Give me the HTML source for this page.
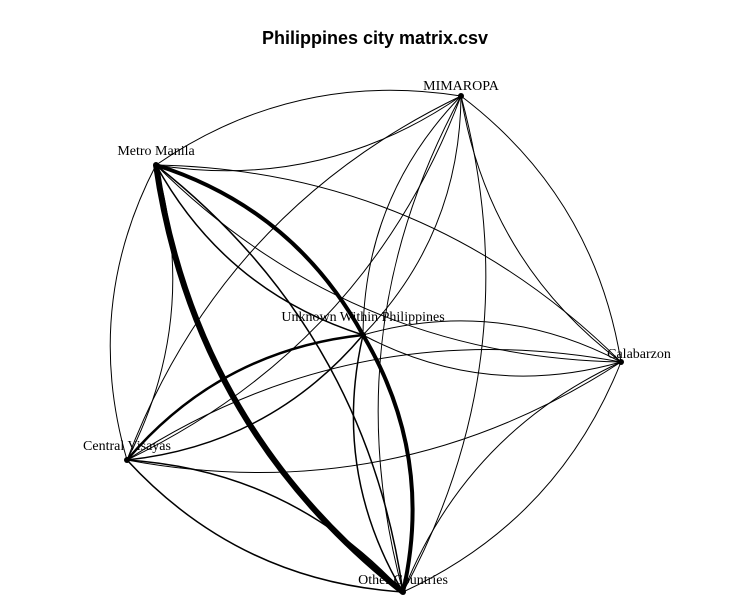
<!DOCTYPE html>
<html><head><meta charset="utf-8"><style>
body{margin:0;background:#fff}
svg{display:block}
text{font-family:"Liberation Serif",serif;font-size:14px;fill:#000}
.title{font-family:"Liberation Sans",sans-serif;font-weight:bold;font-size:18px}
</style></head><body>
<svg id="chart" width="749" height="616">
<text class="title" x="375" y="44" text-anchor="middle">Philippines city matrix.csv</text>
<g id="edges"></g>
<g id="nodes"></g>
</svg>
<script>
const nodeNames = ["MIMAROPA","Metro Manila","Unknown Within Philippines","Calabarzon","Central Visayas","Other Countries"];
const nodeX = [461,156,363,621,127,403];
const nodeY = [96,165,335,362,460,592];
const edgeFrom = [1,5,1,2,2,5,4,2,4,5,0,1,0,2,0,3,0,4,0,5,1,3,1,4,2,3,3,4,3,5];
const edgeTo   = [5,1,2,1,5,2,2,4,5,4,1,0,2,0,3,0,4,0,5,0,3,1,4,1,3,2,4,3,5,3];
const edgeWeight=[6,1.5,1.5,4,1.5,4,1.5,2.5,1.5,1.5,1,1,1,1,1,1,1,1,1,1,1,1,1,1,1,1,1,1,1,1];
const ns="http://www.w3.org/2000/svg";
const eg=document.getElementById('edges');
const curv=0.2;
for(let i=0;i<edgeFrom.length;i++){
  const a=edgeFrom[i],b=edgeTo[i];
  const x1=nodeX[a],y1=nodeY[a],x2=nodeX[b],y2=nodeY[b];
  const dx=x2-x1,dy=y2-y1;
  const cx=(x1+x2)/2+(-dy)*curv, cy=(y1+y2)/2+dx*curv;
  const p=document.createElementNS(ns,'path');
  p.setAttribute('d',`M${x1},${y1} Q${cx},${cy} ${x2},${y2}`);
  p.setAttribute('fill','none');p.setAttribute('stroke','#000');
  p.setAttribute('stroke-width',edgeWeight[i]);
  
  
  eg.appendChild(p);
}
const ng=document.getElementById('nodes');
const labelDy=[-10,-14,-18,-8,-14,-12];
for(let i=0;i<nodeNames.length;i++){
  const c=document.createElementNS(ns,'circle');
  c.setAttribute('cx',nodeX[i]);c.setAttribute('cy',nodeY[i]);c.setAttribute('r',3);
  c.setAttribute('fill','#000');
  
  
  ng.appendChild(c);
  const t=document.createElementNS(ns,'text');
  t.setAttribute('x',nodeX[i]+(i==3?18:0));t.setAttribute('y',nodeY[i]+labelDy[i]+4);
  t.setAttribute('text-anchor','middle');
  t.textContent=nodeNames[i];
  
  
  ng.appendChild(t);
}
</script>
</body></html>
